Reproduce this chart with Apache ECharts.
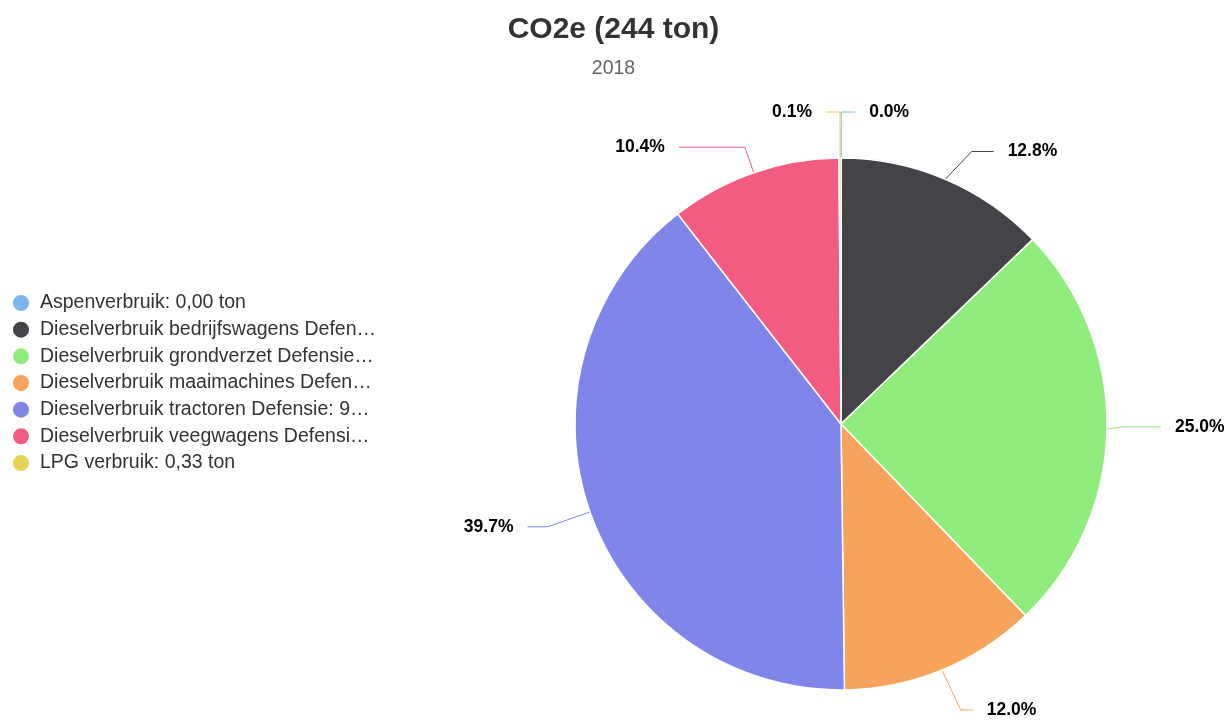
<!DOCTYPE html>
<html><head><meta charset="utf-8">
<script src="https://cdn.jsdelivr.net/npm/echarts@6/dist/echarts.min.js"></script>
<style>html,body{margin:0;padding:0;background:#fff}#c{width:1227px;height:720px}</style>
</head><body><div id="c"></div>
<script>
const categories = [
  'Aspenverbruik',
  'Dieselverbruik bedrijfswagens Defensie',
  'Dieselverbruik grondverzet Defensie',
  'Dieselverbruik maaimachines Defensie',
  'Dieselverbruik tractoren Defensie',
  'Dieselverbruik veegwagens Defensie',
  'LPG verbruik'
];
const valuesTon = [0.00, 31.23, 61.00, 29.28, 96.87, 25.38, 0.33];
const colors = ['#7cb5ec','#434348','#90ed7d','#f7a35c','#8085e9','#f15c80','#e4d354'];
const titleText = 'CO2e (244 ton)';
const subtitleText = '2018';

const FONT = 'Liberation Sans, Arial, sans-serif';
const fmtNL = v => v.toFixed(2).replace('.', ',');
// connector lengths per slice (style only)
const lineLen = [[46, 14], [30, 22], [30, 38], [49, 12], [45, 20], [27, 66], [46, 14]];
const data = categories.map((n, i) => ({
  name: n, value: valuesTon[i], itemStyle: {color: colors[i]},
  labelLine: {length: lineLen[i][0], length2: lineLen[i][1]}
}));

const chart = echarts.init(document.getElementById('c'));
chart.setOption({
  animation: false,
  title: {
    text: titleText, subtext: subtitleText, left: 'center', top: 10, itemGap: 14,
    textStyle: {fontFamily: FONT, fontSize: 30, fontWeight: 'bold', color: '#333'},
    subtextStyle: {fontFamily: FONT, fontSize: 19.5, color: '#666'}
  },
  legend: {
    orient: 'vertical', left: 6, top: 288, icon: 'circle', itemWidth: 18, itemHeight: 18, itemGap: 6.67,
    formatter: name => name + ': ' + fmtNL(valuesTon[categories.indexOf(name)]) + ' ton',
    textStyle: {fontFamily: FONT, fontSize: 19.5, lineHeight: 20, color: '#333', width: 338, overflow: 'truncate', ellipsis: '…', padding: [0, 0, 0, 5]}
  },
  series: [{
    type: 'pie',
    center: [841, 424], radius: 266,
    startAngle: 89.95, clockwise: true,
    percentPrecision: 1,
    data: data,
    itemStyle: {borderColor: '#fff', borderWidth: 1.5},
    label: {
      show: true, color: '#000', fontWeight: 'bold', fontSize: 17.5, fontFamily: FONT,
      overflow: 'none', distanceToLabelLine: 14,
      formatter: p => p.percent.toFixed(1) + '%'
    },
    labelLine: {show: true, lineStyle: {width: 1}},
    emphasis: {disabled: true}
  }]
});
</script></body></html>
